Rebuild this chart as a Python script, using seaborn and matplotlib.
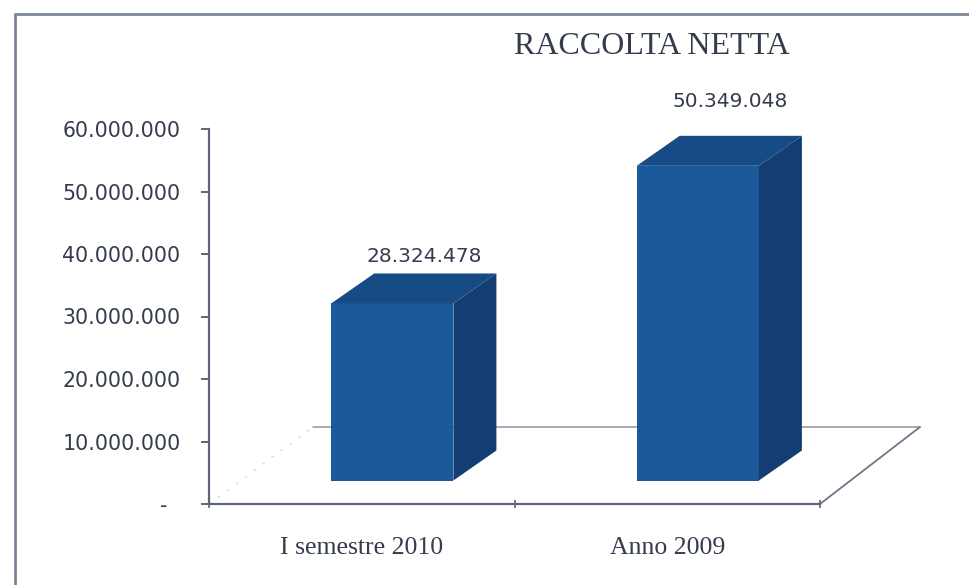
import matplotlib
matplotlib.use("Agg")
import matplotlib.pyplot as plt
from matplotlib.patches import Polygon
from matplotlib.lines import Line2D
from matplotlib.ticker import FuncFormatter
import seaborn as sns
import pandas as pd

# ---- data ----
categories = ["I semestre 2010", "Anno 2009"]
values = [28324478, 50349048]
value_labels = ["28.324.478", "50.349.048"]
y_ticks = [0, 10000000, 20000000, 30000000, 40000000, 50000000, 60000000]
title = "RACCOLTA NETTA"

df = pd.DataFrame({"cat": categories, "val": values})

sns.set_theme(style="white")
W, H = 969, 585
fig = plt.figure(figsize=(W / 100, H / 100), dpi=100)
fig.patch.set_facecolor("white")

# axes placement (pixels)
x_left_px, x_unit_px = 209, 305.5
y0_px, y60_px = 504, 129
xlim = (-0.5, 1.95)
ylim = (0, 65e6)
px_per_val = (y0_px - y60_px) / 60e6
ax_w = (xlim[1] - xlim[0]) * x_unit_px
ax_h = (ylim[1] - ylim[0]) * px_per_val
ax = fig.add_axes([x_left_px / W, (H - y0_px) / H, ax_w / W, ax_h / H])
ax.set_facecolor("none")

front_col = "#1a5a9b"
top_col = "#174b86"
side_col = "#143e72"
text_col = "#333b4d"
axis_col = "#5d6677"

sns.barplot(data=df, x="cat", y="val", width=0.4, color=front_col,
            saturation=1, ax=ax, zorder=3, edgecolor="none")
ax.set_xlim(*xlim)
ax.set_ylim(*ylim)

# 3D geometry (in data units)
dx = 43 / x_unit_px
dy = 30 / px_per_val
lift = 23.5 / px_per_val
shift = 0.1
floor_dy = 77 / px_per_val
floor_dx_left = 104 / x_unit_px
floor_dx_right = 100 / x_unit_px

# floor
ax.plot([xlim[0] + floor_dx_left, 1.5 + floor_dx_right], [floor_dy, floor_dy],
        color="#8e939c", lw=1.1, zorder=1, clip_on=False)
ax.plot([1.5, 1.5 + floor_dx_right], [0, floor_dy], color="#6f7786",
        lw=1.3, zorder=1, clip_on=False)
ax.plot([-0.5, -0.5 + floor_dx_left], [0, floor_dy], color="#d8dbe0",
        lw=1.0, ls=(0, (2, 6)), zorder=1, clip_on=False)

label_offsets_px = [17, 34]
for i, p in enumerate(ax.patches):
    p.set_x(p.get_x() + shift)
    p.set_y(lift)
    x0 = p.get_x()
    x1 = x0 + p.get_width()
    yb = p.get_y()
    yt = yb + p.get_height()
    top = Polygon([(x0, yt), (x1, yt), (x1 + dx, yt + dy), (x0 + dx, yt + dy)],
                  closed=True, facecolor=top_col, edgecolor="none", zorder=3)
    side = Polygon([(x1, yb), (x1 + dx, yb + dy), (x1 + dx, yt + dy), (x1, yt)],
                   closed=True, facecolor=side_col, edgecolor="none", zorder=3)
    ax.add_patch(top)
    ax.add_patch(side)
    cx = (x0 + x1) / 2 + 0.75 * dx
    ax.text(cx, yt + dy + label_offsets_px[i] / px_per_val, value_labels[i],
            ha="center", va="center", fontsize=14.5, color=text_col,
            family="DejaVu Sans", zorder=5)

# axes styling
for s in ["top", "right"]:
    ax.spines[s].set_visible(False)
for s in ["left", "bottom"]:
    ax.spines[s].set_color(axis_col)
    ax.spines[s].set_linewidth(1.6)
ax.spines["left"].set_bounds(0, 60e6)
ax.spines["bottom"].set_bounds(-0.5, 1.5)

ax.set_yticks(y_ticks)
def fmt(v, pos):
    if v == 0:
        return "-  "
    return f"{int(v):,}".replace(",", ".")
ax.yaxis.set_major_formatter(FuncFormatter(fmt))
ax.tick_params(axis="y", which="major", left=True, length=6, width=1.4,
               color=axis_col, direction="out", pad=14.5, labelsize=14.8,
               labelcolor=text_col)
ax.set_xticks([0, 1])
ax.set_xticklabels(categories, family="Liberation Serif", fontsize=18.5,
                   color=text_col)
ax.set_xticks([-0.5, 0.5, 1.5], minor=True)
ax.tick_params(axis="x", which="major", length=0, pad=24)
ax.tick_params(axis="x", which="minor", bottom=True, length=6, width=1.2,
               color=axis_col, direction="inout")
ax.set_xlabel("")
ax.set_ylabel("")
ax.grid(False)

# title
fig.text(652 / W, 1 - 47 / H, title, ha="center", va="center",
         family="Liberation Serif", fontsize=23, color=text_col)

# outer frame
fig.add_artist(Line2D([15 / W, 1.0], [1 - 14 / H, 1 - 14 / H],
                      transform=fig.transFigure, color="#7c8697", lw=2))
fig.add_artist(Line2D([15 / W, 15 / W], [1 - 14 / H, 0.0],
                      transform=fig.transFigure, color="#7c8697", lw=2))

fig.savefig("out.png", dpi=100)
